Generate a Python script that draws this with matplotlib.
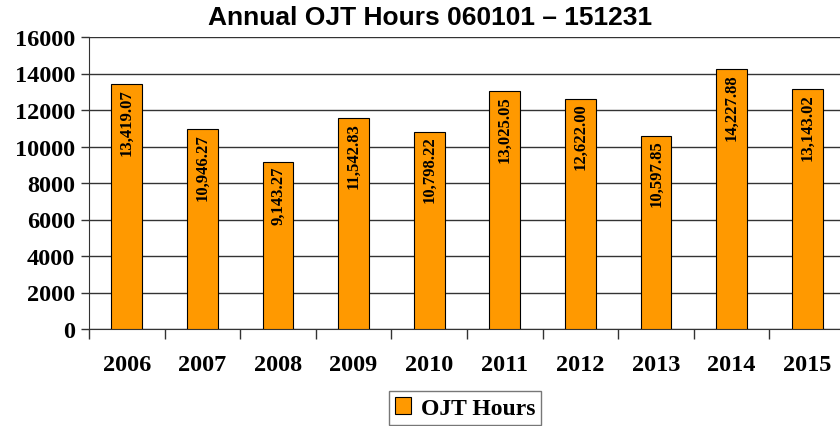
import matplotlib.pyplot as plt
import numpy as np

## data
years = ["2006", "2007", "2008", "2009", "2010", "2011", "2012", "2013", "2014", "2015"]
hours = [13419.07, 10946.27, 9143.27, 11542.83, 10798.22, 13025.05, 12622.00, 10597.85, 14227.88, 13143.02]
labels = ["13,419.07", "10,946.27", "9,143.27", "11,542.83", "10,798.22",
          "13,025.05", "12,622.00", "10,597.85", "14,227.88", "13,143.02"]

fig = plt.figure(figsize=(8.4, 4.27), dpi=100)
# axes run a little past the right edge, like the cropped original
ax = fig.add_axes([89/840, 1 - 330/427, 756/840, 292/427])

x = np.arange(len(years))
ax.bar(x, hours, width=0.41, color="#FF9900", edgecolor="black", linewidth=0.8,
       label="OJT Hours", zorder=3)

for xi, h, lab in zip(x, hours, labels):
    ax.text(xi, h - 200, lab, rotation=90, ha="center", va="top",
            family="Liberation Serif", fontweight="bold", fontsize=12, zorder=4)

ax.set_xlim(-0.5, len(years) - 0.5)
ax.set_ylim(0, 16000)
ax.set_yticks(range(0, 16001, 2000))
ax.set_xticks(x)
ax.set_xticklabels(years)
ax.set_xticks(np.arange(-0.5, len(years), 1), minor=True)
ax.tick_params(axis="x", which="major", length=0, pad=18)
ax.tick_params(axis="x", which="minor", length=7, width=1, color="#333333")
ax.tick_params(axis="y", length=6, width=1, color="#333333", pad=4)
for t in ax.get_xticklabels() + ax.get_yticklabels():
    t.set_family("Liberation Serif")
    t.set_fontweight("bold")
    t.set_fontsize(17.5)

ax.grid(axis="y", color="#333333", linewidth=1, zorder=0)
for s in ["top", "right"]:
    ax.spines[s].set_visible(False)
ax.spines["left"].set_color("#333333")
ax.spines["bottom"].set_color("#333333")

fig.text(430/840, 1 - 18/427, "Annual OJT Hours 060101 \u2013 151231", ha="center", va="center",
         family="Liberation Sans", fontweight="bold", fontsize=19)

leg = fig.legend(loc="center", bbox_to_anchor=(465/840, 1 - 409/427), frameon=True,
                 fancybox=False, edgecolor="#555555", handlelength=0.7, handleheight=0.7,
                 handletextpad=0.4, borderpad=0.25,
                 prop={"family": "Liberation Serif", "weight": "bold", "size": 17})
leg.get_frame().set_linewidth(1)

fig.savefig("out.png", dpi=100)
